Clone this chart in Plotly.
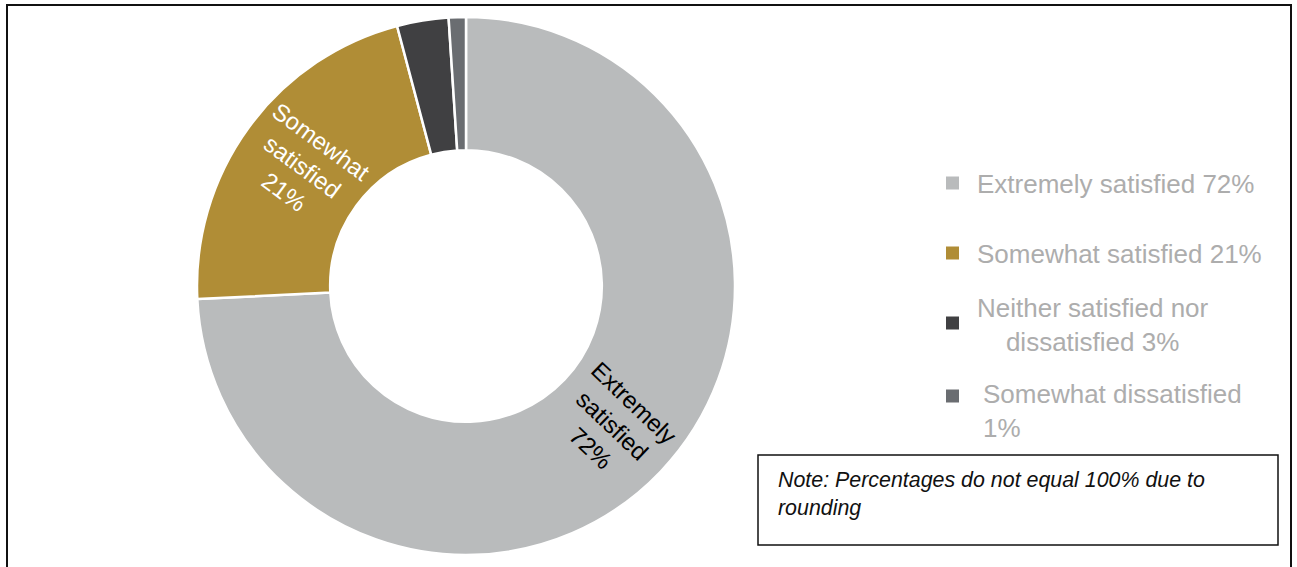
import math
import plotly.graph_objects as go

W, H = 1297, 567

categories = ["Extremely satisfied", "Somewhat satisfied",
              "Neither satisfied nor dissatisfied", "Somewhat dissatisfied"]
values = [72, 21, 3, 1]
slice_labels = ["Extremely<br>satisfied<br>72%", "Somewhat<br>satisfied<br>21%", "", ""]
legend_texts = ["Extremely satisfied 72%", "Somewhat satisfied 21%",
                "Neither satisfied nor<br>dissatisfied 3%",
                "Somewhat dissatisfied<br>1%"]
colors = ["#B9BBBC", "#B08D36", "#404042", "#6A6D71"]
label_colors = ["black", "white", "white", "white"]
note_text = "Note: Percentages do not equal 100% due to<br>rounding"

FONT = "Liberation Sans, Arial, sans-serif"


def px(x):
    return x / W


def py(y):
    return 1 - y / H


# pie geometry (pixels)
CX, CY, R_OUT, HOLE = 466, 286, 269, 0.505

fig = go.Figure()
fig.add_trace(go.Pie(
    labels=categories,
    values=values,
    textinfo="none",
    hole=HOLE,
    sort=False,
    direction="clockwise",
    rotation=0,
    marker=dict(colors=colors, line=dict(color="white", width=2.5)),
    domain=dict(x=[px(CX - R_OUT), px(CX + R_OUT)], y=[py(CY + R_OUT), py(CY - R_OUT)]),
    showlegend=False,
    hoverinfo="label+value",
))

shapes = []
annotations = []

# radial slice labels, positioned from the data
total = sum(values)
cum = 0
r_mid = R_OUT * (1 + HOLE) / 2
for v, lab, col in zip(values, slice_labels, label_colors):
    theta = 360 * (cum + v / 2) / total
    cum += v
    if not lab:
        continue
    t = math.radians(theta)
    x = CX + r_mid * math.sin(t)
    y = CY - r_mid * math.cos(t)
    ang = theta - 90
    while ang > 90:
        ang -= 180
    while ang <= -90:
        ang += 180
    annotations.append(dict(
        xref="paper", yref="paper", x=px(x), y=py(y),
        xanchor="center", yanchor="middle", showarrow=False,
        text=lab, textangle=ang, align="center",
        font=dict(family=FONT, size=24, color=col)))

# outer frame (open at the bottom)
shapes.append(dict(type="rect", xref="paper", yref="paper",
                   x0=px(7), x1=px(1291), y0=py(600), y1=py(5),
                   line=dict(color="#111111", width=2), fillcolor="rgba(0,0,0,0)"))

# custom legend
marker_y = [183, 253, 323, 396]
text_top = [167, 237, 291, 377]
text_x = [975, 975, 975, 981]
aligns = ["left", "left", "center", "left"]
for i, (t, c) in enumerate(zip(legend_texts, colors)):
    s = 13
    shapes.append(dict(type="rect", xref="paper", yref="paper",
                       x0=px(946), x1=px(946 + s),
                       y0=py(marker_y[i] + s / 2), y1=py(marker_y[i] - s / 2),
                       line=dict(width=0), fillcolor=c))
    annotations.append(dict(
        xref="paper", yref="paper", x=px(text_x[i]), y=py(text_top[i]),
        xanchor="left", yanchor="top", align=aligns[i], showarrow=False,
        text=t, font=dict(family=FONT, size=26, color="#ADADAD")))

# note box
shapes.append(dict(type="rect", xref="paper", yref="paper",
                   x0=px(758), x1=px(1278), y0=py(545), y1=py(455),
                   line=dict(color="#111111", width=1.5), fillcolor="white"))
annotations.append(dict(
    xref="paper", yref="paper", x=px(776), y=py(466),
    xanchor="left", yanchor="top", align="left", showarrow=False,
    text="<i>" + note_text + "</i>",
    font=dict(family=FONT, size=21.4, color="#111111")))

fig.update_layout(
    width=W, height=H,
    margin=dict(l=0, r=0, t=0, b=0),
    paper_bgcolor="white",
    plot_bgcolor="white",
    shapes=shapes,
    annotations=annotations,
    font=dict(family=FONT),
)

fig.write_html("out.html")
